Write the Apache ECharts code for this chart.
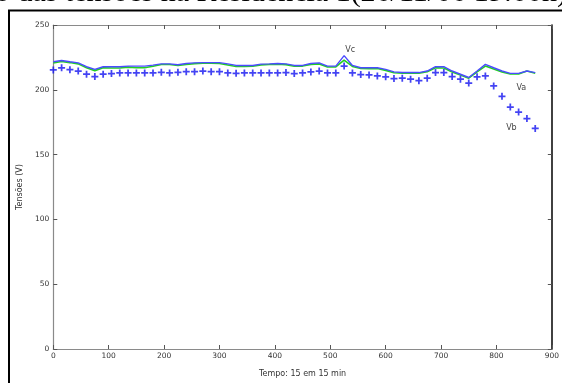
<!DOCTYPE html>
<html>
<head>
<meta charset="utf-8">
<script src="https://cdn.jsdelivr.net/npm/echarts@6/dist/echarts.min.js"></script>
<style>
  html, body { margin: 0; padding: 0; background: #fff; }
  #chart { width: 562px; height: 383px; }
</style>
</head>
<body>
<div id="chart"></div>
<script>
// Sample instants (minutes, one reading every 15 min)
const tempo = [0, 15, 30, 45, 60, 75, 90, 105, 120, 135, 150, 165, 180, 195, 210, 225, 240, 255, 270, 285,
  300, 315, 330, 345, 360, 375, 390, 405, 420, 435, 450, 465, 480, 495, 510, 525, 540, 555, 570, 585,
  600, 615, 630, 645, 660, 675, 690, 705, 720, 735, 750, 765, 780, 795, 810, 825, 840, 855, 870];

// Phase voltages (V)
const va = [220.8, 221.8, 221, 220, 217, 214.8, 217, 216.8, 216.8, 217.5, 217, 217, 218.2, 219.5, 219.5, 218.8, 219.5, 220.2, 220.5, 220.5,
  220.3, 219.2, 218, 218, 218.2, 219.2, 219.5, 219.8, 219.4, 218.2, 218.3, 219.6, 220, 217.6, 217.7, 222.9, 218, 216.4, 216.2, 216.5,
  215, 213.2, 212.8, 212.8, 212.8, 214, 217, 216.8, 213.8, 211.4, 209, 213.8, 218.3, 216, 213.8, 212.2, 212.2, 214.5, 212.8];

const vb = [215.3, 217, 215.5, 214.5, 212, 210.2, 212, 212.5, 213, 213, 213, 213, 213, 213.5, 213, 213.5, 214, 214, 214.5, 214,
  214, 213, 212.7, 213, 213, 213, 213, 213, 213.3, 212.5, 213, 213.8, 214.5, 213, 213, 218.3, 213, 211.8, 211.5, 210.7,
  210, 208.7, 209, 208.2, 207, 209, 213.3, 213.3, 210.2, 208.2, 205.2, 210, 210.7, 203, 195, 186.7, 182.8, 177.8, 170.2];

const vc = [221.6, 222.6, 221.6, 220.8, 217.8, 215.8, 217.8, 217.8, 217.8, 218.3, 218.3, 218.3, 219, 220, 220, 219.3, 220.3, 220.8, 221, 221,
  221, 220, 218.8, 218.8, 218.8, 219.8, 220, 220.3, 220, 218.8, 218.8, 220.3, 220.8, 218.3, 218.3, 226.4, 218.8, 217, 217, 217,
  215.8, 213.8, 213.3, 213.3, 213.3, 214.5, 217.8, 217.8, 214.5, 212, 209.5, 214.5, 219.6, 217, 214.5, 212.7, 212.7, 214.5, 213.3];

// Curve tags and their anchor points in data coordinates
const curveTags = ['Vc', 'Va', 'Vb'];
const tagAnchors = [[536, 231], [845, 201.4], [827, 170.2]];

const titulo = 'Comportamento das tensões na Residência 1(26/11/06 19:00h)';
const xNome = 'Tempo: 15 em 15 min';
const yNome = 'Tensões (V)';

const pairs = (ys) => tempo.map((t, i) => [t, ys[i]]);

const tickFont = { fontFamily: 'DejaVu Sans', fontSize: 7.5, color: '#333' };
const plusPath = 'path://M3,0h2v3h3v2h-3v3h-2v-3h-3v-2h3z';

const chart = echarts.init(document.getElementById('chart'), null, { renderer: 'canvas' });

const baseX = {
  type: 'value', min: 0, max: 900, interval: 100,
  splitLine: { show: false },
  axisTick: { show: true, inside: true, length: 4, lineStyle: { color: '#555' } },
};
const baseY = {
  type: 'value', min: 0, max: 250, interval: 50,
  splitLine: { show: false },
  axisTick: { show: true, inside: true, length: 4, lineStyle: { color: '#555' } },
};

chart.setOption({
  animation: false,
  backgroundColor: '#fff',
  grid: { left: 53.3, right: 8.7, top: 25, bottom: 29, containLabel: false },
  xAxis: [
    Object.assign({}, baseX, {
      position: 'bottom',
      name: xNome, nameLocation: 'middle', nameGap: 21,
      nameTextStyle: { fontFamily: 'DejaVu Sans', fontSize: 8, color: '#333' },
      axisLine: { show: true, onZero: false, lineStyle: { color: '#8a8a8a', width: 1.2 } },
      axisLabel: Object.assign({ margin: 3 }, tickFont),
    }),
    Object.assign({}, baseX, {
      position: 'top',
      axisLine: { show: true, onZero: false, lineStyle: { color: '#8a8a8a', width: 1.2 } },
      axisLabel: { show: false },
    }),
  ],
  yAxis: [
    Object.assign({}, baseY, {
      position: 'left',
      name: yNome, nameLocation: 'middle', nameGap: 29, nameRotate: 90,
      nameTextStyle: { fontFamily: 'DejaVu Sans', fontSize: 8, color: '#333' },
      axisLine: { show: true, onZero: false, lineStyle: { color: '#8a8a8a', width: 1.2 } },
      axisLabel: Object.assign({ margin: 4 }, tickFont),
    }),
    Object.assign({}, baseY, {
      position: 'right',
      axisLine: { show: true, onZero: false, lineStyle: { color: '#111', width: 1.6 } },
      axisLabel: { show: false },
    }),
  ],
  series: [
    {
      name: 'Va', type: 'line', data: pairs(va), showSymbol: false,
      lineStyle: { color: '#22d022', width: 1.6 }, z: 2,
    },
    {
      name: 'Vc', type: 'line', data: pairs(vc), showSymbol: false,
      lineStyle: { color: '#4b4bff', width: 1.4 }, z: 3,
    },
    {
      name: 'Vb', type: 'scatter', data: pairs(vb),
      symbol: plusPath, symbolSize: 7,
      itemStyle: { color: '#1414f0' }, z: 4,
    },
  ],
});

// Curve tags and the page heading, placed through the axes
const tagGraphics = curveTags.map((txt, i) => {
  const p = chart.convertToPixel({ xAxisIndex: 0, yAxisIndex: 0 }, tagAnchors[i]);
  return {
    type: 'text', x: p[0], y: p[1],
    style: { text: txt, font: '8px "DejaVu Sans"', fill: '#444', align: 'center', verticalAlign: 'middle' },
  };
});

chart.setOption({
  graphic: [
    {
      type: 'rect', shape: { x: 9, y: 10.5, width: 600, height: 400 },
      style: { fill: 'none', stroke: '#000', lineWidth: 2 }, silent: true,
    },
    {
      type: 'text', x: 567, y: -7,
      style: { text: titulo, font: '30px "Liberation Serif"', fill: '#000', align: 'right', verticalAlign: 'middle' },
    },
  ].concat(tagGraphics),
});
</script>
</body>
</html>
